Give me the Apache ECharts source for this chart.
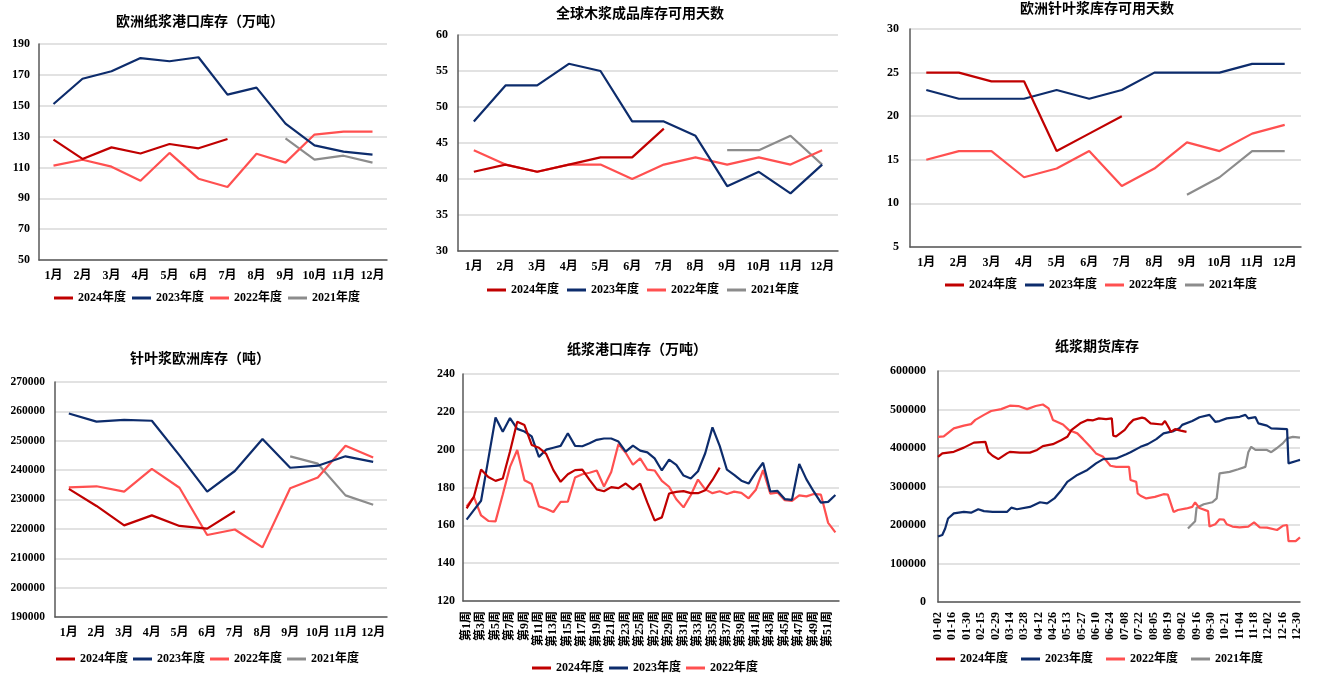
<!DOCTYPE html>
<html><head><meta charset="utf-8">
<script src="https://cdn.jsdelivr.net/npm/echarts@6/dist/echarts.min.js"></script>
<style>html,body{margin:0;padding:0;background:#fff}#c{width:1329px;height:689px}</style>
</head><body><div id="c"></div>
<script>
// ---------- DATA ----------
const months = ['1月','2月','3月','4月','5月','6月','7月','8月','9月','10月','11月','12月'];
const seriesNames = ['2024年度','2023年度','2022年度','2021年度'];

// 欧洲纸浆港口库存（万吨）
const euPort2024 = [128,115.5,123,119,125.2,122.4,128.4];
const euPort2023 = [151.1,167.5,172.3,180.9,178.8,181.4,157.2,161.7,138.4,124.3,120.2,118.3];
const euPort2022 = [111.2,115,110.5,101.4,119.4,102.7,97.3,118.9,113.1,131.3,133.2,133.2];
const euPort2021 = [null,null,null,null,null,null,null,null,128.9,115,117.6,113.1];

// 全球木浆成品库存可用天数
const gDays2024 = [41,42,41,42,43,43,47];
const gDays2023 = [48,53,53,56,55,48,48,46,39,41,38,42];
const gDays2022 = [44,42,41,42,42,40,42,43,42,43,42,44];
const gDays2021 = [null,null,null,null,null,null,null,null,44,44,46,42];

// 欧洲针叶浆库存可用天数
const swDays2024 = [25,25,24,24,16,18,20];
const swDays2023 = [23,22,22,22,23,22,23,25,25,25,26,26];
const swDays2022 = [15,16,16,13,14,16,12,14,17,16,18,19];
const swDays2021 = [null,null,null,null,null,null,null,null,11,13,16,16];

// 针叶浆欧洲库存（吨）
const swStock2024 = [233600,227800,221200,224600,221000,220100,226000];
const swStock2023 = [259300,256500,257100,256800,245000,232700,239700,250600,240800,241500,244700,242800];
const swStock2022 = [234100,234500,232700,240400,234000,217900,219800,213700,233800,237500,248300,244300];
const swStock2021 = [null,null,null,null,null,null,null,null,244700,242200,231400,228200];

// 纸浆港口库存（万吨） weekly
const weeks = ['第1周','第2周','第3周','第4周','第5周','第6周','第7周','第8周','第9周','第10周',
 '第11周','第12周','第13周','第14周','第15周','第16周','第17周','第18周','第19周','第20周',
 '第21周','第22周','第23周','第24周','第25周','第26周','第27周','第28周','第29周','第30周',
 '第31周','第32周','第33周','第34周','第35周','第36周','第37周','第38周','第39周','第40周',
 '第41周','第42周','第43周','第44周','第45周','第46周','第47周','第48周','第49周','第50周',
 '第51周','第52周'];
const port2024 = [169,175,189.5,185.5,183.5,184.8,199,214.8,213,202.5,201,197.8,189.2,183,187,189.2,189.5,184,179,178,
 180.2,179.7,182.1,179,182.1,172,162.6,164.2,176.8,177.7,178.1,177,177,178.5,184,190.5];
const port2023 = [163,168,173,195,217,209.5,216.7,211,209.6,207,196.2,200,201,202,208.7,202,201.8,203.4,205.2,205.9,
 205.9,204.3,199,202.1,199.5,198.6,195.4,189,194.7,192,186.3,184.8,188.6,198.1,211.8,202,189.4,186.7,183.6,182.1,
 188,193.1,177.9,178.2,173.9,173.5,192.5,184.3,177.9,172,172.4,176];
const port2022 = [170,175,165.2,162.3,162.1,176.3,190.9,199.8,183.8,181.8,170,168.8,167,172.4,172.5,185.3,187,187.8,189,180.5,
 188.2,203,198.4,192,195.4,189.4,189,183.5,180.4,173.8,169.5,175.9,184.2,179,177,178,176.6,177.8,177.2,174.3,
 178.8,189.2,176.8,177.3,173.3,172.9,175.8,175.3,176.6,176.2,161.3,156.3];

// 纸浆期货库存 : [trading-day index, tons]
const futTickLabels = ['01-02','01-16','01-30','02-15','02-29','03-14','03-28','04-12','04-26','05-13','05-27','06-10','06-24',
 '07-08','07-22','08-05','08-19','09-02','09-16','09-30','10-21','11-04','11-18','12-02','12-16','12-30'];
const fut2024 = [[0,377000],[3,386000],[11,390000],[18,401000],[25,414000],[33,416000],[34,418000],[35,390000],[38,380000],
 [42,371000],[48,386000],[50,390000],[57,388000],[64,388000],[69,395000],[73,405000],[80,410000],[86,421000],[90,429000],
 [93,447000],[99,464000],[104,473000],[108,472000],[112,477000],[117,475000],[121,477000],[122,432000],[124,430000],
 [130,447000],[133,462000],[136,473000],[142,479000],[144,477000],[148,464000],[156,461000],[158,470000],[161,451000],
 [162,442000],[165,449000],[169,445000],[173,442000]];
const fut2023 = [[0,170000],[3,174000],[5,191000],[7,217000],[11,230000],[18,234000],[23,232000],[28,241000],[32,236000],
 [38,234000],[48,234000],[51,245000],[55,241000],[64,247000],[71,259000],[76,256000],[81,269000],[86,291000],[90,312000],
 [97,330000],[104,343000],[110,360000],[115,371000],[124,373000],[131,384000],[134,389000],[141,403000],[146,410000],
 [152,423000],[157,438000],[164,444000],[168,451000],[170,460000],[177,470000],[182,480000],[189,486000],[193,468000],
 [196,470000],[201,477000],[210,481000],[214,486000],[216,477000],[221,480000],[223,464000],[229,458000],[232,451000],
 [243,449000],[244,360000],[250,367000],[252,369000]];
const fut2022 = [[0,429000],[4,430000],[11,451000],[18,458000],[23,462000],[26,473000],[32,486000],[37,496000],[44,501000],
 [50,510000],[56,509000],[62,501000],[68,509000],[73,513000],[77,503000],[80,473000],[87,461000],[91,447000],[97,438000],
 [101,423000],[106,403000],[110,386000],[115,377000],[120,354000],[124,351000],[133,351000],[134,317000],[138,312000],
 [139,282000],[141,276000],[145,269000],[151,273000],[157,280000],[160,279000],[164,234000],[167,239000],[173,243000],
 [177,247000],[179,259000],[182,244000],[188,236000],[189,196000],[193,202000],[196,215000],[199,214000],[201,202000],
 [205,196000],[210,194000],[216,196000],[220,207000],[224,194000],[229,193000],[236,187000],[240,198000],[243,200000],
 [244,158000],[249,158000],[252,168000]];
const fut2021 = [[174,191000],[179,210000],[180,245000],[185,254000],[191,259000],[194,269000],[196,334000],[203,338000],
 [209,345000],[214,351000],[216,389000],[218,403000],[221,395000],[229,395000],[232,389000],[236,400000],[240,412000],
 [243,425000],[247,429000],[252,427000]];

// ---------- STYLE ----------
const COLORS = {'2024年度':'#C00000','2023年度':'#0D2C6C','2022年度':'#FF5050','2021年度':'#8C8C8C'};
const NUMFONT = '"Liberation Serif","Noto Sans CJK SC",serif';
const TITLEFONT = '"Noto Sans CJK SC",sans-serif';
const axisLineStyle = {color:'#595959', width:1.5};
const labelStyle = (size, margin) => ({color:'#000', fontFamily:NUMFONT, fontWeight:'bold', fontSize:size, margin:margin});

const grids = [
  {left:39, top:44, width:348, height:216},
  {left:458, top:35, width:380, height:216},
  {left:910, top:29, width:391, height:218},
  {left:55, top:382, width:332, height:235},
  {left:463, top:374, width:376, height:227},
  {left:938, top:371, width:362, height:231}
];
const yCfg = [
  {min:50,max:190,interval:20,size:12,margin:9},
  {min:30,max:60,interval:5,size:12,margin:10},
  {min:5,max:30,interval:5,size:12,margin:11},
  {min:190000,max:270000,interval:10000,size:11.5,margin:10},
  {min:120,max:240,interval:20,size:12,margin:8},
  {min:0,max:600000,interval:100000,size:12,margin:12}
];
const titles = [
  {text:'欧洲纸浆港口库存（万吨）', x:200, y:21},
  {text:'全球木浆成品库存可用天数', x:640, y:13},
  {text:'欧洲针叶浆库存可用天数', x:1097, y:8},
  {text:'针叶浆欧洲库存（吨）', x:200, y:358},
  {text:'纸浆港口库存（万吨）', x:637, y:349},
  {text:'纸浆期货库存', x:1097, y:346}
];
const legendPos = [
  {left:54, top:292, gap:6, n:4},
  {left:487, top:284, gap:8, n:4},
  {left:945, top:279, gap:8, n:4},
  {left:56, top:653, gap:5, n:4},
  {left:532, top:662, gap:5, n:3},
  {left:936, top:653, gap:13, n:4}
];

const xAxes = [], yAxes = [], series = [];
for (let i = 0; i < 6; i++) {
  const yc = yCfg[i];
  yAxes.push({gridIndex:i, type:'value', min:yc.min, max:yc.max, interval:yc.interval,
    axisLine:{show:true, lineStyle:axisLineStyle}, axisTick:{show:false},
    splitLine:{show:true, lineStyle:{color:'#D9D9D9', width:1.5}},
    axisLabel:Object.assign(labelStyle(yc.size, yc.margin), {formatter: v => String(v)})});
}
for (let i = 0; i < 4; i++) {
  xAxes.push({gridIndex:i, type:'category', data:months, boundaryGap:true,
    axisLine:{show:true, lineStyle:axisLineStyle}, axisTick:{show:false}, splitLine:{show:false},
    axisLabel:Object.assign(labelStyle(12, 10), {interval:0})});
}
xAxes.push({gridIndex:4, type:'category', data:weeks, boundaryGap:true,
  axisLine:{show:true, lineStyle:axisLineStyle}, axisTick:{show:false}, splitLine:{show:false},
  axisLabel:Object.assign(labelStyle(12, 10), {interval:1, rotate:90})});
xAxes.push({gridIndex:5, type:'value', min:0, max:252, interval:10,
  axisLine:{show:true, lineStyle:axisLineStyle}, axisTick:{show:false}, splitLine:{show:false},
  axisLabel:Object.assign(labelStyle(12, 10), {rotate:90, showMaxLabel:false,
    formatter: v => (v % 10 === 0 && futTickLabels[v/10]) ? futTickLabels[v/10] : ''})});

function addLine(name, data, idx) {
  series.push({type:'line', name:name, data:data, xAxisIndex:idx, yAxisIndex:idx,
    symbol:'none', showSymbol:false, connectNulls:false,
    lineStyle:{color:COLORS[name], width:2.2}, itemStyle:{color:COLORS[name]}, z: 10 - seriesNames.indexOf(name)});
}
const sets = [
  [euPort2024, euPort2023, euPort2022, euPort2021],
  [gDays2024, gDays2023, gDays2022, gDays2021],
  [swDays2024, swDays2023, swDays2022, swDays2021],
  [swStock2024, swStock2023, swStock2022, swStock2021],
  [port2024, port2023, port2022],
  [fut2024, fut2023, fut2022, fut2021]
];
sets.forEach((arrs, gi) => {
  for (let k = arrs.length - 1; k >= 0; k--) addLine(seriesNames[k], arrs[k], gi);
});

const legends = legendPos.map(p => ({
  left:p.left, top:p.top, padding:0, orient:'horizontal', icon:'rect', itemWidth:19, itemHeight:3, itemGap:p.gap,
  data:seriesNames.slice(0, p.n), selectedMode:false,
  textStyle:{color:'#000', fontFamily:NUMFONT, fontWeight:'bold', fontSize:12}
}));

const graphics = titles.map(t => ({type:'text', x:t.x, y:t.y, silent:true,
  style:{text:t.text, fill:'#000', font:'bold 14px ' + TITLEFONT, align:'center', verticalAlign:'middle'}}));

const chart = echarts.init(document.getElementById('c'), null, {renderer:'canvas'});
chart.setOption({
  backgroundColor:'#fff', animation:false,
  grid:grids, xAxis:xAxes, yAxis:yAxes, series:series, legend:legends, graphic:graphics
});
</script></body></html>
